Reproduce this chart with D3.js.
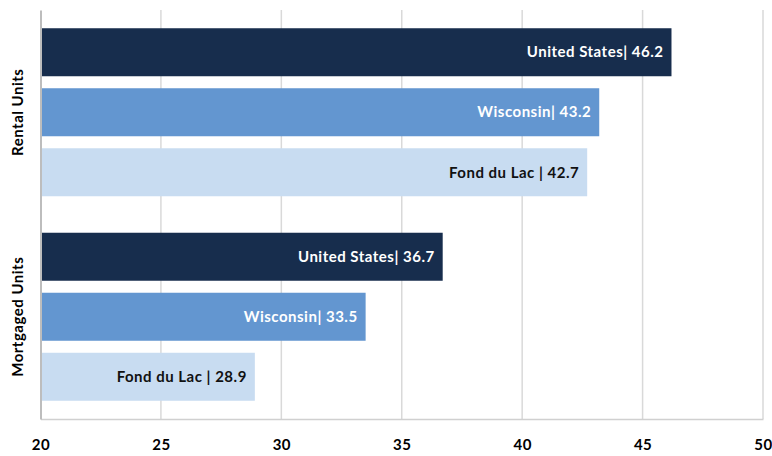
<!DOCTYPE html>
<html>
<head>
<meta charset="utf-8">
<script src="https://cdn.jsdelivr.net/npm/d3@7"></script>
<style>
  body { margin: 0; background: #fff; }
  svg { display: block; font-family: Lato, "Open Sans", sans-serif; }
</style>
</head>
<body>
<svg id="chart"></svg>
<script>
// data
var groups = ["Rental Units", "Mortgaged Units"];
var places = ["United States", "Wisconsin", "Fond du Lac"];
var placeLabels = ["United States|", "Wisconsin|", "Fond du Lac |"];
var rentalValues = [46.2, 43.2, 42.7];
var mortgagedValues = [36.7, 33.5, 28.9];
var xTicks = [20, 25, 30, 35, 40, 45, 50];

var colors = ["#172d4d", "#6396d0", "#c8dcf1"];
var textColors = ["#fff", "#fff", "#111"];

var svgWidth = 772, svgHeight = 456;
var margin = { top: 10, right: 9, bottom: 37, left: 40.5 };
var width = svgWidth - margin.left - margin.right;
var height = svgHeight - margin.top - margin.bottom;

var data = [];
groups.forEach(function (g, gi) {
    var vals = gi === 0 ? rentalValues : mortgagedValues;
    places.forEach(function (p, pi) {
        data.push({ group: g, place: p, label: placeLabels[pi], value: vals[pi], idx: pi });
    });
});

var svg = d3.select("#chart")
    .attr("width", svgWidth)
    .attr("height", svgHeight);

var g = svg.append("g")
    .attr("transform", "translate(" + margin.left + "," + margin.top + ")");

var xScale = d3.scaleLinear()
    .domain([20, 50])
    .range([0, width]);

var yOuter = d3.scaleBand()
    .domain(groups)
    .range([0, height]);

var yInner = d3.scaleBand()
    .domain(places)
    .range([0, yOuter.bandwidth()])
    .paddingInner(0.2)
    .paddingOuter(0.304);

// gridlines
g.append("g")
    .selectAll("line")
    .data(xTicks.slice(1))
    .join("line")
    .attr("x1", d => xScale(d))
    .attr("x2", d => xScale(d))
    .attr("y1", 0)
    .attr("y2", height)
    .attr("stroke", "#d9d9d9")
    .attr("stroke-width", 1.5);

// bars
var bars = g.append("g")
    .selectAll("g")
    .data(data)
    .join("g")
    .attr("transform", d => "translate(0," + (yOuter(d.group) + yInner(d.place)) + ")");

bars.append("rect")
    .attr("x", 0)
    .attr("y", 0)
    .attr("width", d => xScale(d.value) - xScale(20))
    .attr("height", yInner.bandwidth())
    .attr("fill", d => colors[d.idx]);

bars.append("text")
    .attr("x", d => xScale(d.value) - 8)
    .attr("y", yInner.bandwidth() / 2)
    .attr("dy", "0.35em")
    .attr("text-anchor", "end")
    .attr("font-size", 15)
    .attr("letter-spacing", "0.5px")
    .attr("font-weight", "bold")
    .attr("fill", d => textColors[d.idx])
    .text(d => d.label + " " + d.value.toFixed(1));

// x axis
var xAxis = g.append("g")
    .attr("transform", "translate(0," + height + ")")
    .call(d3.axisBottom(xScale).tickValues(xTicks).tickSize(0).tickPadding(20));
xAxis.select(".domain").attr("stroke", "#d0d0d0").attr("stroke-width", 1.5);
xAxis.selectAll("text")
    .attr("font-size", 15)
    .attr("letter-spacing", "0.5px")
    .attr("font-weight", "bold")
    .attr("fill", "#000")
    .attr("font-family", "Lato, sans-serif");

// y axis
var yAxis = g.append("g")
    .call(d3.axisLeft(yOuter).tickSize(0).tickPadding(0));
yAxis.select(".domain").attr("stroke", "#bdbdbd").attr("stroke-width", 2);
yAxis.selectAll(".tick text").remove();
yAxis.selectAll(".tick")
    .append("text")
    .attr("transform", "translate(-18,0) rotate(-90)")
    .attr("text-anchor", "middle")
    .attr("font-size", 15)
    .attr("letter-spacing", "0.5px")
    .attr("font-weight", "bold")
    .attr("fill", "#000")
    .attr("font-family", "Lato, sans-serif")
    .text(d => d);
</script>
</body>
</html>
